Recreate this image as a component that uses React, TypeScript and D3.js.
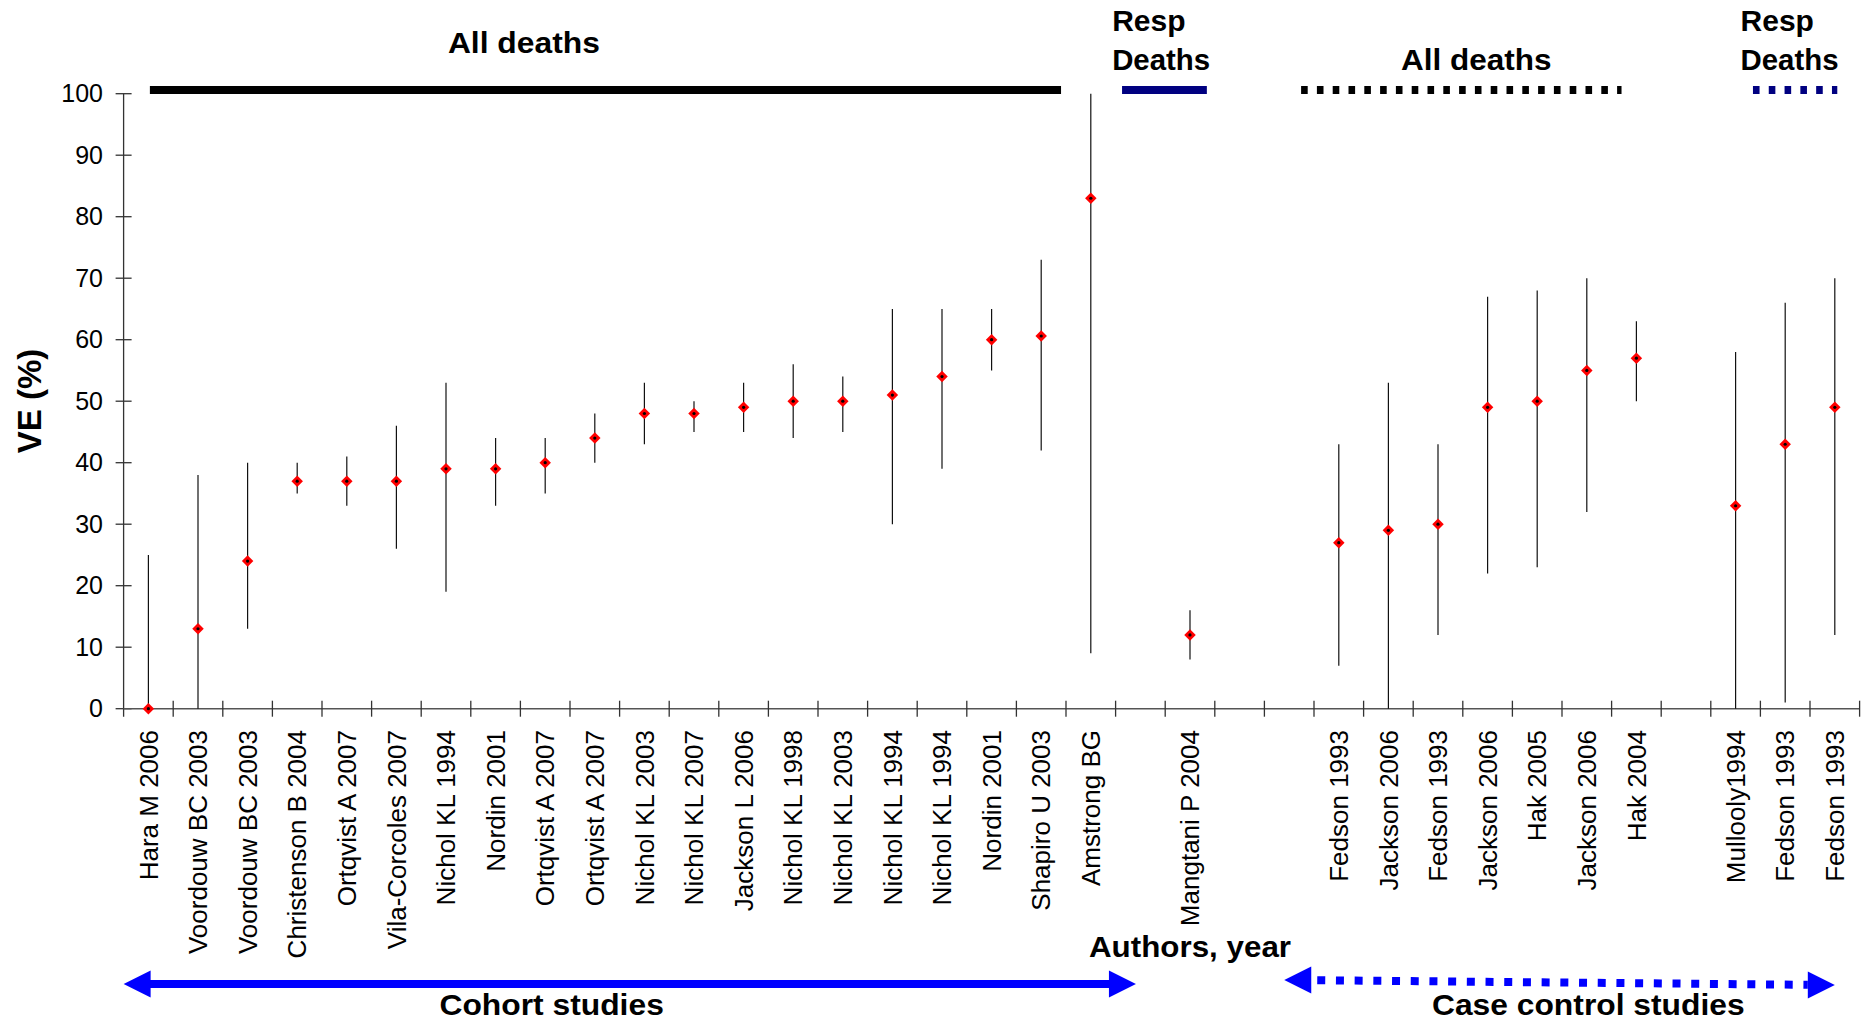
import React from "react";
import * as d3 from "d3";

// studies along the x axis ("" = empty slot)
const studies = [
  "Hara M 2006", "Voordouw BC 2003", "Voordouw BC 2003", "Christenson B 2004",
  "Ortqvist A 2007", "Vila-Corcoles 2007", "Nichol KL 1994", "Nordin 2001",
  "Ortqvist A 2007", "Ortqvist A 2007", "Nichol KL 2003", "Nichol KL 2007",
  "Jackson L 2006", "Nichol KL 1998", "Nichol KL 2003", "Nichol KL 1994",
  "Nichol KL 1994", "Nordin 2001", "Shapiro U 2003", "Amstrong BG",
  "", "Mangtani P 2004", "", "",
  "Fedson 1993", "Jackson 2006", "Fedson 1993", "Jackson 2006",
  "Hak 2005", "Jackson 2006", "Hak 2004", "",
  "Mullooly1994", "Fedson 1993", "Fedson 1993",
];

// VE point estimates and 95% CI
const ve = [
  0, 13, 24, 37, 37, 37, 39, 39, 40, 44, 48, 48, 49, 50, 50, 51, 54, 60, 60.6, 83,
  null, 12, null, null, 27, 29, 30, 49, 50, 55, 57, null, 33, 43, 49,
];
const ciLow = [
  0, 0, 13, 35, 33, 26, 19, 33, 35, 40, 43, 45, 45, 44, 45, 30, 39, 55, 42, 9,
  null, 8, null, null, 7, 0, 12, 22, 23, 32, 50, null, 0, 1, 12,
];
const ciHigh = [
  25, 38, 40, 40, 41, 46, 53, 44, 44, 48, 53, 50, 53, 56, 54, 65, 65, 65, 73, 100,
  null, 16, null, null, 43, 53, 43, 67, 68, 70, 63, null, 58, 66, 70,
];

const yTicks = [0, 10, 20, 30, 40, 50, 60, 70, 80, 90, 100];

const W = 1863;
const H = 1024;
const margin = { top: 93.7, right: 3.4, bottom: 315.3, left: 123.6 };
const FONT = "'Liberation Sans', Arial, Helvetica, sans-serif";

// bold title, slightly widened like the original
const Title: React.FC<{ x: number; y: number; sx?: number; anchor?: string; children: React.ReactNode }> = ({
  x,
  y,
  sx = 1.06,
  anchor = "middle",
  children,
}) => (
  <text
    transform={`translate(${x},${y}) scale(${sx},1)`}
    textAnchor={anchor}
    fontWeight="bold"
    fontSize={30}
  >
    {children}
  </text>
);

const App: React.FC = () => {
  const x = d3
    .scaleLinear()
    .domain([0, studies.length])
    .range([margin.left, W - margin.right]);
  const y = d3
    .scaleLinear()
    .domain([0, 100])
    .range([H - margin.bottom, margin.top]);

  const y0 = y(0);
  const marker = d3.symbol().type(d3.symbolSquare).size(66)() as string;

  // arrow head polygon, dir = 1 points right, -1 points left
  const head = (tx: number, ty: number, dir: number) =>
    `M${tx},${ty}L${tx - dir * 27},${ty - 13.5}L${tx - dir * 27},${ty + 13.5}Z`;

  const cohortL = x(0);
  const cohortR = x(20.41);
  const caseL = x(23.4);
  const caseR = x(34.5);

  return (
    <svg
      width={W}
      height={H}
      style={{ position: "absolute", left: 0, top: 0, display: "block", background: "#fff" }}
      fontFamily={FONT}
    >
      {/* header bars */}
      <line x1={x(0.53)} x2={x(18.9)} y1={90} y2={90} stroke="#000" strokeWidth={8} />
      <line x1={x(20.13)} x2={x(21.84)} y1={90} y2={90} stroke="#000080" strokeWidth={8} />
      <line x1={x(23.74)} x2={x(30.2)} y1={90} y2={90} stroke="#000" strokeWidth={8} strokeDasharray="6.6 9.2" />
      <line x1={x(32.85)} x2={x(34.55)} y1={90} y2={90} stroke="#000080" strokeWidth={8} strokeDasharray="6.6 9.2" />

      <Title x={x(8.07)} y={53}>All deaths</Title>
      <Title x={x(19.93)} y={31} sx={1} anchor="start">Resp</Title>
      <Title x={x(19.93)} y={70} sx={0.98} anchor="start">Deaths</Title>
      <Title x={x(27.27)} y={70} sx={1.05}>All deaths</Title>
      <Title x={x(32.6)} y={31} sx={1} anchor="start">Resp</Title>
      <Title x={x(32.6)} y={70} sx={0.98} anchor="start">Deaths</Title>

      {/* y axis */}
      <line x1={margin.left} x2={margin.left} y1={y(100)} y2={y0 + 8} stroke="#333" strokeWidth={1.3} />
      {yTicks.map((t) => (
        <g key={t}>
          <line x1={margin.left - 8} x2={margin.left + 8} y1={y(t)} y2={y(t)} stroke="#333" strokeWidth={1.3} />
          <text x={103} y={y(t)} dy="0.35em" textAnchor="end" fontSize={25}>
            {t}
          </text>
        </g>
      ))}
      <text
        transform={`translate(29,401) rotate(-90)`}
        textAnchor="middle"
        dy="0.35em"
        fontWeight="bold"
        fontSize={33}
      >
        VE (%)
      </text>

      {/* x axis */}
      <line x1={margin.left} x2={W - margin.right} y1={y0} y2={y0} stroke="#555" strokeWidth={1.5} />
      {d3.range(1, studies.length + 1).map((i) => (
        <line key={i} x1={x(i)} x2={x(i)} y1={y0 - 8} y2={y0 + 8} stroke="#333" strokeWidth={1.3} />
      ))}
      {studies.map((s, i) =>
        s ? (
          <text
            key={i}
            transform={`translate(${x(i + 0.5)},730) rotate(-90)`}
            textAnchor="end"
            dy="0.35em"
            fontSize={26}
          >
            {s}
          </text>
        ) : null
      )}

      {/* error bars + points */}
      {ve.map((v, i) =>
        v === null ? null : (
          <g key={i}>
            <line
              x1={x(i + 0.5)}
              x2={x(i + 0.5)}
              y1={y(ciLow[i] as number)}
              y2={y(ciHigh[i] as number)}
              stroke="#111"
              strokeWidth={1.2}
            />
            <path
              d={marker}
              transform={`translate(${x(i + 0.5)},${y(v)}) rotate(45)`}
              fill="#ff0000"
            />
            <circle cx={x(i + 0.5)} cy={y(v)} r={1.6} fill="#000" />
          </g>
        )
      )}

      <Title x={x(21.5)} y={957} sx={1.045}>Authors, year</Title>

      {/* cohort arrow */}
      <line x1={cohortL + 26} x2={cohortR - 26} y1={984} y2={984} stroke="#0000ff" strokeWidth={8} />
      <path d={head(cohortL, 984, -1)} fill="#0000ff" />
      <path d={head(cohortR, 984, 1)} fill="#0000ff" />
      <Title x={x(8.63)} y={1015}>Cohort studies</Title>

      {/* case control arrow */}
      <line
        x1={caseL + 27}
        x2={caseR - 27}
        y1={980.2}
        y2={984.8}
        stroke="#0000ff"
        strokeWidth={8}
        strokeDasharray="8 10.7"
        strokeDashoffset={-6}
      />
      <path d={head(caseL, 980, -1)} fill="#0000ff" />
      <path d={head(caseR, 985, 1)} fill="#0000ff" />
      <Title x={x(29.53)} y={1015}>Case control studies</Title>
    </svg>
  );
};

export default App;
